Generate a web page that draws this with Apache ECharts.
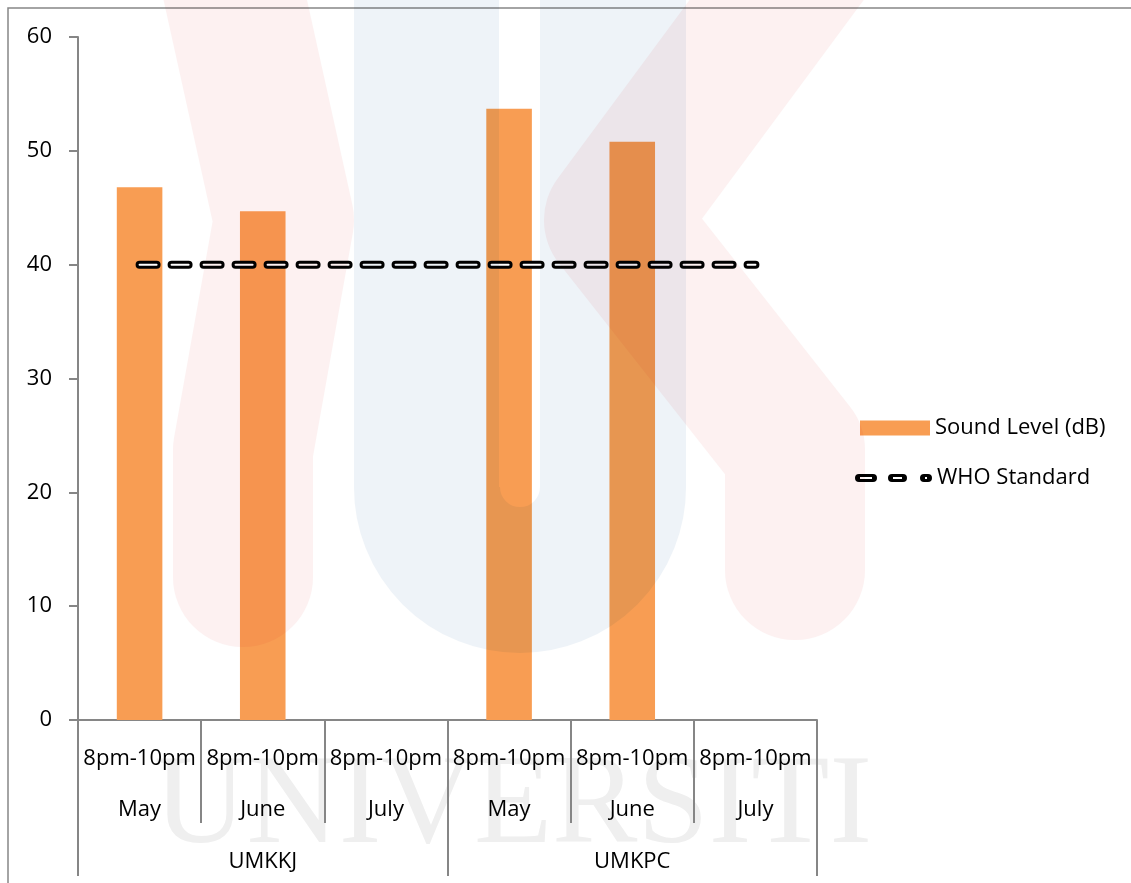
<!DOCTYPE html>
<html>
<head>
<meta charset="utf-8">
<script src="https://cdn.jsdelivr.net/npm/echarts@6/dist/echarts.min.js"></script>
<style>
  html, body { margin: 0; padding: 0; background: #fff; }
  #main { width: 1131px; height: 883px; }
</style>
</head>
<body>
<div id="main"></div>
<script>
// 数据
var periods = ['8pm-10pm', '8pm-10pm', '8pm-10pm', '8pm-10pm', '8pm-10pm', '8pm-10pm'];
var months = ['May', 'June', 'July', 'May', 'June', 'July'];
var sites = ['UMKKJ', 'UMKPC'];
var soundLevel = [46.8, 44.7, null, 53.7, 50.8, null];
var whoStandard = [40, 40, 40, 40, 40, 40];

var axisColor = '#868686';
var font = 'Open Sans';
var labelSize = 22;

// 图例里的虚线图标 (三段圆头短线, 中间白线)
var whoIcon = 'path://' +
	'M4,0 L18,0 A4,4 0 0 1 18,8 L4,8 A4,4 0 0 1 4,0 Z M5,3 L5,5 L17,5 L17,3 Z ' +
	'M37,0 L48,0 A4,4 0 0 1 48,8 L37,8 A4,4 0 0 1 37,0 Z M38,3 L38,5 L47,5 L47,3 Z ' +
	'M69,0 L73,0 A4,4 0 0 1 73,8 L69,8 A4,4 0 0 1 69,0 Z M70,3 L70,5 L72,5 L72,3 Z';

var myChart = echarts.init(document.getElementById('main'));

// 背景水印 (multiply)
var pink = '#FDF1F1';
var blue = '#EEF3F8';
var watermark = [{
	type: 'line', silent: true, z: 100,
	shape: { x1: 426.5, y1: -10, x2: 426.5, y2: 487 },
	style: { stroke: blue, lineWidth: 145, blend: 'multiply' }
}, {
	type: 'line', silent: true, z: 100,
	shape: { x1: 613, y1: -10, x2: 613, y2: 487 },
	style: { stroke: blue, lineWidth: 146, blend: 'multiply' }
}, {
	type: 'arc', silent: true, z: 100,
	shape: { cx: 520, cy: 487, r: 93, startAngle: 0, endAngle: Math.PI, clockwise: true },
	style: { stroke: blue, fill: 'none', lineWidth: 146, blend: 'multiply' }
}, {
	type: 'polyline', silent: true, z: 100,
	shape: { points: [[222, -60], [284, 220], [243, 450], [243, 577]] },
	style: { stroke: pink, fill: 'none', lineWidth: 140, lineJoin: 'round', lineCap: 'round', blend: 'multiply' }
}, {
	type: 'polyline', silent: true, z: 100,
	shape: { points: [[821, -60], [614, 220], [795, 450], [795, 570]] },
	style: { stroke: pink, fill: 'none', lineWidth: 140, lineJoin: 'round', lineCap: 'round', blend: 'multiply' }
}, {
	type: 'text', silent: true, z: -1,
	x: 513, y: 808,
	style: {
		text: 'UNIVERSITI', fill: '#EFEFEF', font: '128px "Liberation Serif"',
		align: 'center', verticalAlign: 'middle'
	}
}];

var option = {
	animation: false,
	backgroundColor: '#fff',
	textStyle: { fontFamily: font },
	graphic: [{
		type: 'rect',
		shape: { x: 8, y: 8, width: 1200, height: 1000 },
		style: { fill: 'none', stroke: axisColor, lineWidth: 1.5 },
		silent: true
	}].concat(watermark),
	legend: [{
		orient: 'vertical',
		left: 860,
		top: 417,
		padding: 0,
		itemWidth: 70,
		itemHeight: 15,
		textStyle: { fontFamily: font, fontSize: labelSize, color: '#000' },
		data: [{ name: 'Sound Level (dB)', icon: 'rect' }]
	}, {
		orient: 'vertical',
		left: 855,
		top: 467,
		padding: 0,
		itemWidth: 77,
		itemHeight: 8,
		textStyle: { fontFamily: font, fontSize: labelSize, color: '#000' },
		data: [{
			name: 'WHO Standard',
			icon: whoIcon,
			itemStyle: { color: '#000', borderWidth: 0 }
		}]
	}],
	grid: {
		left: 78,
		top: 37,
		right: 314,
		bottom: 163
	},
	xAxis: [{
		type: 'category',
		data: periods,
		position: 'bottom',
		axisLine: { show: true, lineStyle: { color: axisColor, width: 2 } },
		axisTick: { show: true, interval: 0, length: 103, lineStyle: { color: axisColor, width: 2 } },
		axisLabel: { interval: 0, margin: 28, fontSize: labelSize, color: '#000', fontFamily: font }
	}, {
		type: 'category',
		data: months,
		position: 'bottom',
		axisLine: { show: false },
		axisTick: { show: false },
		axisLabel: { interval: 0, margin: 79, fontSize: labelSize, color: '#000', fontFamily: font }
	}, {
		type: 'category',
		data: sites,
		position: 'bottom',
		axisLine: { show: false },
		axisTick: { show: true, interval: 0, length: 156, lineStyle: { color: axisColor, width: 2 } },
		axisLabel: { interval: 0, margin: 131, fontSize: labelSize, color: '#000', fontFamily: font }
	}],
	yAxis: {
		type: 'value',
		min: 0,
		max: 60,
		interval: 10,
		axisLine: { show: true, lineStyle: { color: axisColor, width: 2 } },
		axisTick: { show: true, length: 9, lineStyle: { color: axisColor, width: 2 } },
		axisLabel: { margin: 26, fontSize: labelSize, color: '#000', fontFamily: font },
		splitLine: { show: false }
	},
	series: [{
		name: 'Sound Level (dB)',
		type: 'bar',
		xAxisIndex: 0,
		barWidth: '37%',
		itemStyle: { color: '#F89D53' },
		data: soundLevel
	}, {
		name: 'WHO Standard',
		type: 'line',
		xAxisIndex: 0,
		symbol: 'none',
		itemStyle: { color: '#000' },
		lineStyle: { color: '#000', width: 8, type: [17, 15], cap: 'round' },
		data: whoStandard
	}, {
		name: 'WHO Standard inner',
		type: 'line',
		xAxisIndex: 0,
		symbol: 'none',
		silent: true,
		lineStyle: { color: '#fff', width: 2, type: [17, 15], cap: 'round' },
		data: whoStandard
	}]
};

myChart.setOption(option);
//自适应
window.addEventListener('resize', function() {
	myChart.resize();
});
</script>
</body>
</html>
